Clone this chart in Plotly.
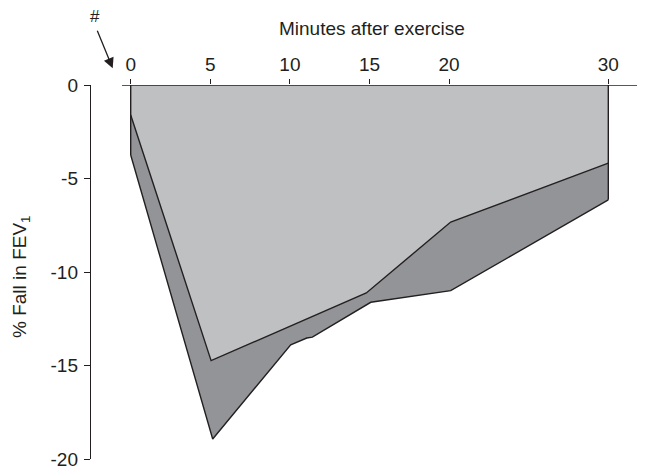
import plotly.graph_objects as go

# Data
minutes_upper = [0, 5.05, 14.8, 20.1, 30]
fall_upper = [-1.6, -14.74, -11.12, -7.33, -4.18]

minutes_lower = [0, 5.15, 10.05, 11.06, 11.41, 15.08, 20.1, 30]
fall_lower = [-3.74, -18.93, -13.89, -13.53, -13.48, -11.62, -11.0, -6.14]

x_ticks = [0, 5, 10, 15, 20, 30]
y_ticks = [0, -5, -10, -15, -20]

LIGHT = "#bfc0c2"
DARK = "#939497"
INK = "#231f20"
FONT = "Liberation Sans"

OFF = 8  # page body margin
W, H = 645 - OFF, 476 - OFF
# target pixel positions in the screenshot
PL, PR, PT, PB = 91, 645, 85, 459
L, T = PL - OFF, PT - OFF
R = (645 - OFF) - (PR - OFF)
B = H - (PB - OFF)
# pixel mapping: t=0 -> 130.7px, t=30 -> 608.3px
ppm = (608.3 - 130.7) / 30
x0 = -(130.7 - PL) / ppm
x1 = x0 + (PR - PL) / ppm

fig = go.Figure()

# dark band between upper and lower curves
fig.add_trace(go.Scatter(
    x=minutes_lower + minutes_upper[::-1],
    y=fall_lower + fall_upper[::-1],
    fill="toself", fillcolor=DARK, mode="none", hoverinfo="skip",
))
# light area between zero line and upper curve
fig.add_trace(go.Scatter(
    x=[minutes_upper[0]] + minutes_upper + [minutes_upper[-1]],
    y=[0] + fall_upper + [0],
    fill="toself", fillcolor=LIGHT, mode="none", hoverinfo="skip",
))
# outlines
fig.add_trace(go.Scatter(x=minutes_upper, y=fall_upper, mode="lines",
                         line=dict(color=INK, width=1.4), hoverinfo="skip"))
fig.add_trace(go.Scatter(x=minutes_lower, y=fall_lower, mode="lines",
                         line=dict(color=INK, width=1.4), hoverinfo="skip"))
fig.add_trace(go.Scatter(x=[minutes_lower[0], minutes_lower[0], None, minutes_lower[-1], minutes_lower[-1]],
                         y=[0, fall_lower[0], None, 0, fall_lower[-1]], mode="lines",
                         line=dict(color=INK, width=1.4), hoverinfo="skip", cliponaxis=False))

# top axis line
fig.add_shape(type="line", xref="x", yref="y", x0=-(130.7 - 122) / ppm, x1=x1, y0=0, y1=0,
              line=dict(color=INK, width=1.4), layer="above")

fig.update_layout(
    width=W, height=H,
    margin=dict(l=L, r=R, t=T, b=B),
    plot_bgcolor="white", paper_bgcolor="white",
    showlegend=False,
    font=dict(family=FONT, color=INK, size=19),
    xaxis=dict(range=[x0, x1], side="top", tickmode="array", tickvals=x_ticks,
               ticktext=[str(v) for v in x_ticks], ticks="outside", ticklen=5,
               tickwidth=1.4, tickcolor=INK, showline=False, showgrid=False,
               zeroline=False, tickfont=dict(size=19, family=FONT, color=INK)),
    yaxis=dict(range=[-20, 0], tickmode="array", tickvals=y_ticks,
               ticktext=[str(v) for v in y_ticks], ticks="outside", ticklen=6,
               tickwidth=1.4, tickcolor=INK, showline=True, linecolor=INK, linewidth=1.4,
               showgrid=False, zeroline=False, ticklabelstandoff=2,
               tickfont=dict(size=19, family=FONT, color=INK)),
)

pw = PR - PL
ph = PB - PT
def px(xp):
    return (xp - PL) / pw
def py(yp):
    return 1 - (yp - PT) / ph

fig.add_annotation(text="Minutes after exercise", xref="paper", yref="paper",
                   x=px(372), y=py(28), showarrow=False, xanchor="center", yanchor="middle",
                   font=dict(size=19, family=FONT, color=INK))
fig.add_annotation(text="% Fall in FEV<sub>1</sub>", xref="paper", yref="paper",
                   x=px(21), y=py(277), showarrow=False, textangle=-90,
                   xanchor="center", yanchor="middle",
                   font=dict(size=19, family=FONT, color=INK))
fig.add_annotation(text="#", xref="paper", yref="paper", x=px(95), y=py(17),
                   showarrow=False, xanchor="center", yanchor="middle",
                   font=dict(size=17, family=FONT, color=INK))
fig.add_annotation(text="", xref="paper", yref="paper", x=px(112.7), y=py(68.3),
                   ax=-16, ay=-39, showarrow=True, arrowhead=2, arrowsize=1.6,
                   arrowwidth=1.3, arrowcolor=INK)

fig.write_html("out.html")
